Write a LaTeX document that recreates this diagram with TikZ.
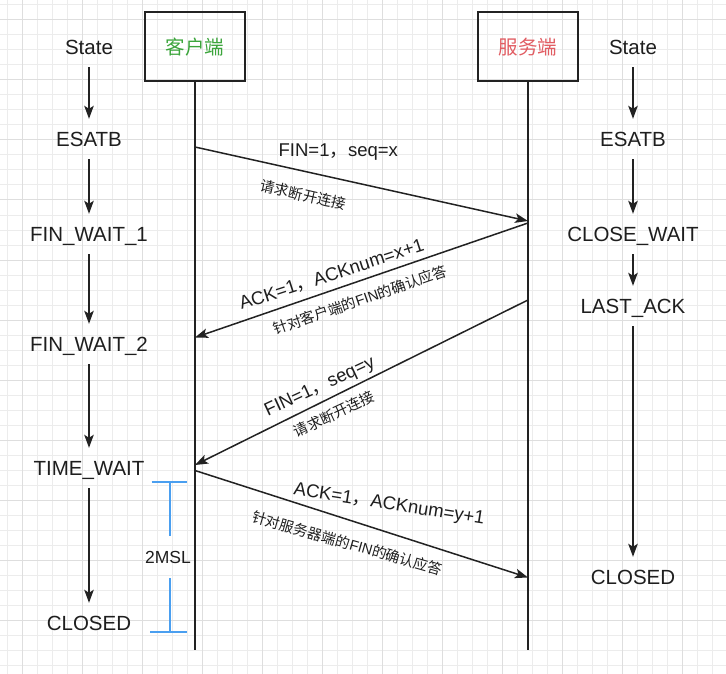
\documentclass[tikz,border=0pt]{standalone}
\usepackage{fontspec}
\setmainfont{Liberation Sans}
\newfontfamily\cjk{Noto Sans CJK SC}
\usetikzlibrary{arrows.meta}
\definecolor{txt}{RGB}{30,30,30}
\definecolor{ln}{RGB}{34,34,34}
\definecolor{gminor}{RGB}{236,236,236}
\definecolor{gmajor}{RGB}{222,222,222}
\definecolor{bl}{RGB}{74,159,240}
\definecolor{grn}{RGB}{60,165,60}
\definecolor{rd}{RGB}{225,92,98}
\begin{document}
\begin{tikzpicture}[x=1pt,y=-1pt,
  state/.style={inner sep=0pt, minimum height=40pt, text height=14.7pt, text depth=0pt, font=\fontsize{20.5}{24}\selectfont, text=txt},
  party/.style={draw=ln, line width=1.5pt, minimum width=100pt, minimum height=69pt, inner sep=0pt, font=\cjk\fontsize{19.5}{22}\selectfont},
  arr/.style={draw=ln, line width=1.5pt, -{Stealth[length=13pt,width=9.5pt,inset=3pt]}},
  life/.style={draw=ln, line width=1.5pt},
  msg/.style={inner sep=0pt, text=txt, font=\fontsize{18.5}{22}\selectfont},
  sub/.style={inner sep=0pt, text=txt, font=\fontsize{14.5}{17}\selectfont},
  brk/.style={draw=bl, line width=1.5pt},
  gmin/.style={draw=gminor, line width=1pt},
  gmaj/.style={draw=gmajor, line width=1pt}
]
\useasboundingbox (0,0) rectangle (726,674);
\fill[white] (0,0) rectangle (726,674);
\begin{scope}
\clip (0,0) rectangle (726,674);
\foreach \i in {0,...,48} \draw[gmin] ({7.3+15*\i},0) -- ({7.3+15*\i},674);
\foreach \i in {0,...,45} \draw[gmin] (0,{5+15*\i}) -- (726,{5+15*\i});
\foreach \i in {0,...,11} \draw[gmaj] ({22.3+60*\i},0) -- ({22.3+60*\i},674);
\foreach \i in {0,...,11} \draw[gmaj] (0,{20+60*\i}) -- (726,{20+60*\i});
\end{scope}

% parties
\node[party, text=grn] (client) at (195,46.7) {客户端};
\node[party, text=rd] (server) at (528,46.7) {服务端};
\coordinate (cend) at (195,650);
\coordinate (send) at (528,650);
\draw[life] (client) -- (cend);
\draw[life] (server) -- (send);

% left states
\node[state] (ls) at (89,47) {State};
\node[state] (le) at (89,139) {ESATB};
\node[state] (lw1) at (89,234) {FIN\_WAIT\_1};
\node[state] (lw2) at (89,344) {FIN\_WAIT\_2};
\node[state] (ltw) at (89,468) {TIME\_WAIT};
\node[state] (lc) at (89,623) {CLOSED};
\draw[arr] (ls) -- (le);
\draw[arr] (le) -- (lw1);
\draw[arr] (lw1) -- (lw2);
\draw[arr] (lw2) -- (ltw);
\draw[arr] (ltw) -- (lc);

% right states
\node[state] (rs) at (633,47) {State};
\node[state] (re) at (633,139) {ESATB};
\node[state] (rcw) at (633,234) {CLOSE\_WAIT};
\node[state] (rla) at (633,306) {LAST\_ACK};
\node[state] (rc) at (633,577) {CLOSED};
\draw[arr] (rs) -- (re);
\draw[arr] (re) -- (rcw);
\draw[arr] (rcw) -- (rla);
\draw[arr] (rla) -- (rc);

% messages
\coordinate (m1s) at (195,147);
\coordinate (m1e) at (528,221);
\coordinate (m2s) at (528,223);
\coordinate (m2e) at (195,337.5);
\coordinate (m3s) at (528,300);
\coordinate (m3e) at (195,465);
\coordinate (m4s) at (195,470.5);
\coordinate (m4e) at (528,577.5);
\draw[arr] (m1s) -- (m1e);
\draw[arr] (m2s) -- (m2e);
\draw[arr] (m3s) -- (m3e);
\draw[arr] (m4s) -- (m4e);

\node[msg] (l1) at (338.3,152.3) {FIN=1{\cjk ，}seq=x};
\node[sub, rotate=-13] (s1) at (303.3,195) {\cjk 请求断开连接};
\node[msg, rotate=18] (l2) at (331.7,275) {ACK=1{\cjk ，}ACKnum=x+1};
\node[sub, rotate=19] (s2) at (360,300) {{\cjk 针对客户端的}FIN{\cjk 的确认应答}};
\node[msg, rotate=25] (l3) at (320,387.4) {FIN=1{\cjk ，}seq=y};
\node[sub, rotate=25] (s3) at (334,414) {\cjk 请求断开连接};
\node[msg, rotate=-9] (l4) at (389,505) {ACK=1{\cjk ，}ACKnum=y+1};
\node[sub, rotate=-16] (s4) at (347.4,543.3) {{\cjk 针对服务器端的}FIN{\cjk 的确认应答}};

% 2MSL bracket
\node[inner sep=0pt, text=txt, font=\fontsize{17.5}{20}\selectfont] (msl) at (168,557) {2MSL};
\coordinate (bt1) at (151.7,482);
\coordinate (bt2) at (186.7,482);
\coordinate (btm) at (170,482);
\coordinate (bu) at (170,536);
\coordinate (bl1) at (170,578);
\coordinate (bb1) at (150,632);
\coordinate (bb2) at (186.7,632);
\coordinate (bbm) at (170,632);
\draw[brk] (bt1) -- (bt2);
\draw[brk] (btm) -- (bu);
\draw[brk] (bl1) -- (bbm);
\draw[brk] (bb1) -- (bb2);
\end{tikzpicture}
\end{document}
